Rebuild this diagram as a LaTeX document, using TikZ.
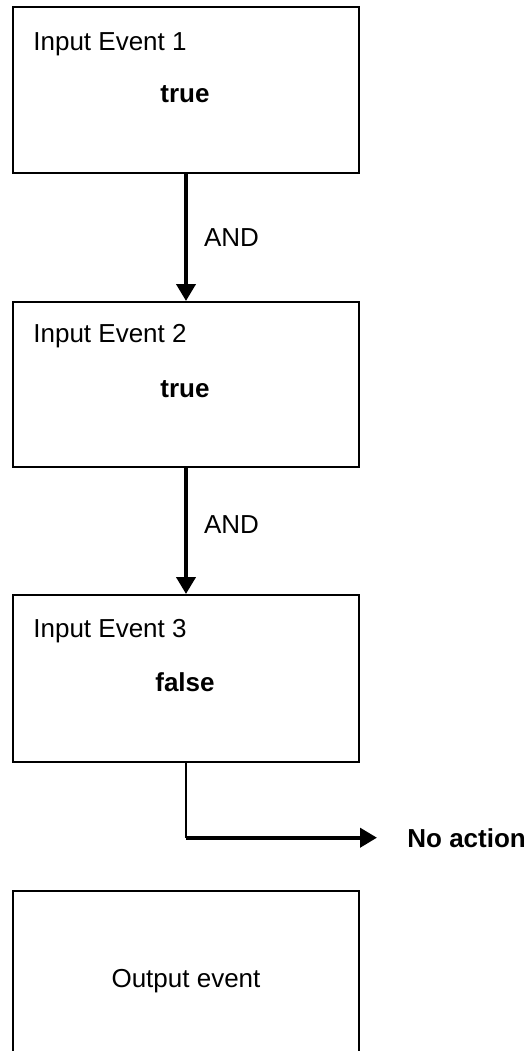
\documentclass[tikz,border=0pt]{standalone}
\usepackage{fontspec}
\setmainfont{Liberation Sans}
\usetikzlibrary{positioning, arrows.meta}

\begin{document}
\begin{tikzpicture}[
    x=0.5pt, y=-0.5pt,
    evbox/.style = {rectangle, draw, line width=1pt,
      minimum width=173pt, minimum height=83pt, inner sep=0pt},
    evtext/.style = {inner sep=0pt, anchor=base west,
      font=\fontsize{13}{15}\selectfont},
    evstate/.style = {inner sep=0pt, anchor=base,
      font=\fontsize{13}{15}\selectfont\bfseries},
    andarrow/.style = {line width=2pt, -{Triangle[width=9.5pt, length=8.5pt]}},
  ]
\useasboundingbox (0,0) rectangle (526,1051);

% the three input events
\node[evbox] (ev1) at (186,90)    {};
\node[evbox, minimum height=82.5pt] (ev2) at (186,384.5) {};
\node[evbox, minimum height=83.5pt] (ev3) at (186,678.5) {};

\node[evtext]  (ev1name) at (33,50)   {Input Event 1};
\node[evstate] (ev1val)  at (185,102) {true};
\node[evtext]  (ev2name) at (33,342)  {Input Event 2};
\node[evstate] (ev2val)  at (185,397) {true};
\node[evtext]  (ev3name) at (33,637)  {Input Event 3};
\node[evstate] (ev3val)  at (185,691) {false};

% output event, cut at the bottom
\node[evbox] (out) at (186,974) {};
\node[evstate, font=\fontsize{13}{15}\selectfont] (outname) at (186,987) {Output event};

% AND links
\draw[andarrow] (ev1) -- (ev2) node[evtext, pos=0.5, xshift=8pt, anchor=west] (and1) {AND};
\draw[andarrow] (ev2) -- (ev3) node[evtext, pos=0.45, xshift=8pt, anchor=west] (and2) {AND};

% false branch
\node[evstate, anchor=base west] (noact) at (407,847) {No action};
\coordinate (bend) at (ev3.south |- noact.west);
\draw[line width=1pt] (ev3.south) -- (bend);
\draw[andarrow, shorten >=15pt] (bend) -- (noact.west);
\end{tikzpicture}
\end{document}
